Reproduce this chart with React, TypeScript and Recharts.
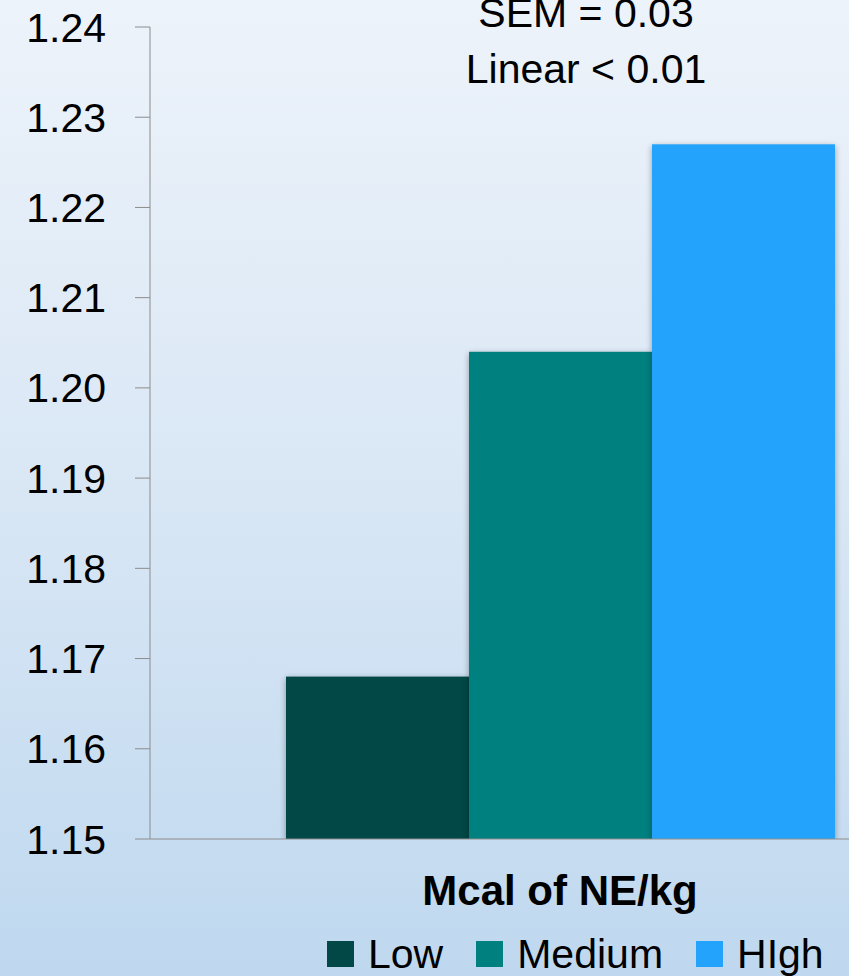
import { BarChart, Bar, XAxis, YAxis, Label } from 'recharts';

// Energy density groups and their values
const levels = ['Low', 'Medium', 'HIgh'];
const values = [1.168, 1.204, 1.227];
const colors = ['#014846', '#00807f', '#23a3fb'];
const yTicks = [1.15, 1.16, 1.17, 1.18, 1.19, 1.2, 1.21, 1.22, 1.23, 1.24];
const category = 'Mcal of NE/kg';
const notes = ['SEM = 0.03', 'Linear < 0.01'];

const FONT = '"Liberation Sans", Arial, sans-serif';

const row: Record<string, string | number> = { name: category };
levels.forEach((l, i) => {
  row[l] = values[i];
});
const data = [row];

const ShadowBar = (props: any) => {
  const { x, y, width, height, fill } = props;
  return (
    <rect
      x={x}
      y={y}
      width={width}
      height={height}
      fill={fill}
      style={{ filter: 'drop-shadow(0px 2px 3px rgba(0,0,0,0.35))' }}
    />
  );
};

const App = () => {
  return (
    <div
      style={{
        position: 'fixed',
        left: 0,
        top: 0,
        width: 849,
        height: 976,
        overflow: 'hidden',
        background: 'linear-gradient(to bottom, #edf3fa 0%, #d9e7f5 50%, #bfd8ef 100%)',
        fontFamily: FONT,
      }}
    >
      <BarChart
        width={990}
        height={976}
        data={data}
        margin={{ top: 27, right: 20, bottom: 0, left: 0 }}
        barGap={0}
        barCategoryGap={136}
      >
        <YAxis
          domain={[1.15, 1.24]}
          ticks={yTicks}
          allowDataOverflow
          tickFormatter={(v: number) => v.toFixed(2)}
          width={150}
          tickSize={15}
          tickMargin={29}
          stroke="#8c8c8c"
          tick={{ fill: '#000', fontSize: 41, fontFamily: FONT }}
        />
        <XAxis dataKey="name" tick={false} tickLine={false} height={137} stroke="#8c8c8c">
          <Label
            value={category}
            position="insideTop"
            offset={36}
            style={{ fill: '#000', fontSize: 42, fontWeight: 700, fontFamily: FONT }}
          />
        </XAxis>
        {levels.map((l, i) => (
          <Bar key={l} dataKey={l} fill={colors[i]} shape={ShadowBar} isAnimationActive={false} />
        ))}
      </BarChart>

      <svg width={849} height={976} style={{ position: 'absolute', left: 0, top: 0, pointerEvents: 'none' }}>
        {notes.map((t, i) => (
          <text
            key={t}
            x={586}
            y={27 + i * 56}
            textAnchor="middle"
            fontSize={41}
            fontFamily={FONT}
            fill="#000"
          >
            {t}
          </text>
        ))}
      </svg>

      <div
        style={{
          position: 'absolute',
          left: 327,
          top: 934,
          height: 40,
          display: 'flex',
          alignItems: 'center',
          whiteSpace: 'nowrap',
        }}
      >
        {levels.map((l, i) => (
          <div key={l} style={{ display: 'flex', alignItems: 'center', marginRight: 33 }}>
            <span style={{ width: 27, height: 26, background: colors[i], marginRight: 14 }} />
            <span style={{ fontSize: 41, lineHeight: 1, color: '#000' }}>{l}</span>
          </div>
        ))}
      </div>
    </div>
  );
};

export default App;
